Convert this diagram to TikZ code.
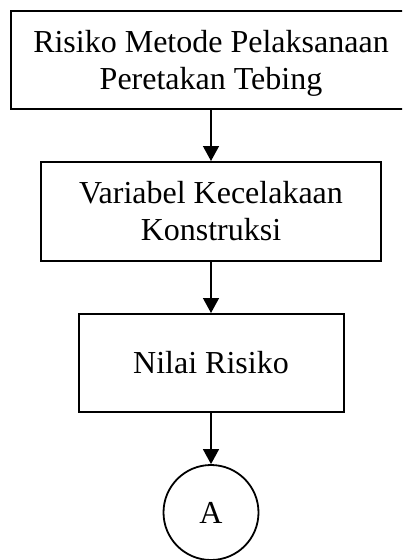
\documentclass[tikz,border=0pt]{standalone}
\usepackage{fontspec}
\setmainfont{Liberation Serif}
\usetikzlibrary{arrows.meta}
\begin{document}
\begin{tikzpicture}[x=1pt,y=-1pt,
  box/.style={draw, line width=2pt, rectangle, align=center, inner sep=0pt,
    font=\fontsize{32}{37}\selectfont},
  conn/.style={draw, circle, line width=1.8pt, inner sep=0pt, minimum size=95pt,
    font=\fontsize{32}{37}\selectfont},
  arr/.style={line width=1.4pt, -{Triangle[length=15pt,width=16pt]}}]
\path[use as bounding box, clip] (0,0) rectangle (402,560);
\node[box, minimum width=401pt, minimum height=98pt, text depth=0pt] (b1) at (211,60) {Risiko Metode Pelaksanaan\\Peretakan Tebing};
\node[box, minimum width=340pt, minimum height=99pt] (b2) at (211,211.5) {Variabel Kecelakaan\\Konstruksi};
\node[box, minimum width=265pt, minimum height=98pt] (b3) at (211,363) {Nilai Risiko};
\node[conn] (c) at (211,512.5) {A};
\draw[arr] (b1.south) -- (b2.north);
\draw[arr] (b2.south) -- (b3.north);
\draw[arr] (b3.south) -- (c.north);
\end{tikzpicture}
\end{document}
